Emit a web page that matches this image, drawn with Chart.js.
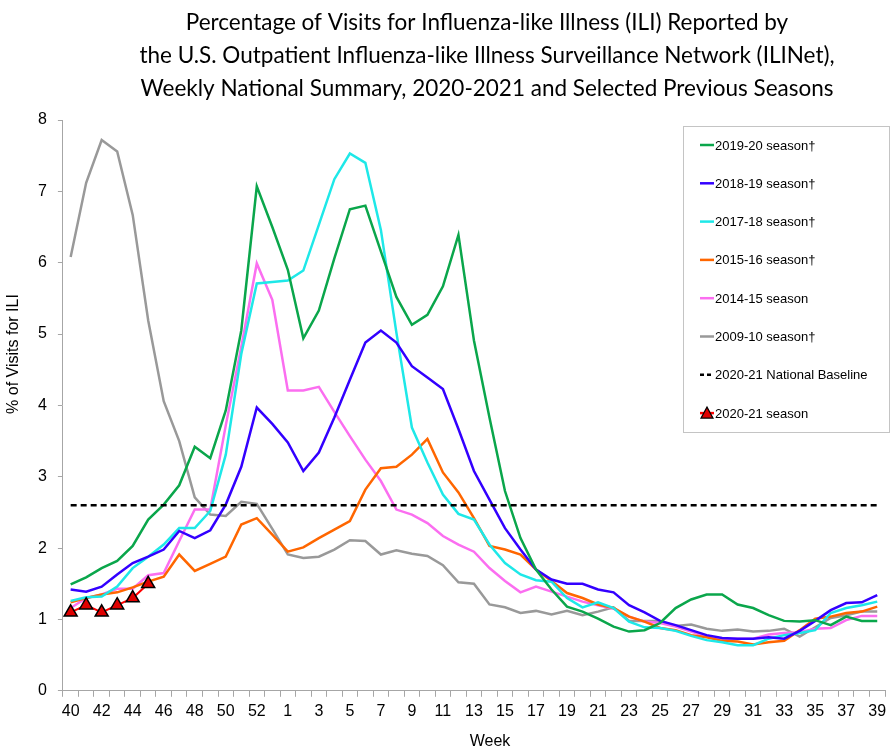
<!DOCTYPE html>
<html>
<head>
<meta charset="utf-8">
<script src="https://cdn.jsdelivr.net/npm/chart.js@4.4.1/dist/chart.umd.min.js"></script>
<style>
  html, body { margin: 0; padding: 0; background: #fff; }
  #wrap { width: 894px; height: 754px; }
</style>
</head>
<body>
<div id="wrap"><canvas id="ili" width="894" height="754"></canvas></div>
<script>
"use strict";

// week numbers along the x axis (2020-21 has a week 53)
const weeks = ["40","41","42","43","44","45","46","47","48","49","50","51","52","53",
  "1","2","3","4","5","6","7","8","9","10","11","12","13","14","15","16","17","18","19","20",
  "21","22","23","24","25","26","27","28","29","30","31","32","33","34","35","36","37","38","39"];

// % of visits for ILI
const season1920 = [1.49,1.59,1.72,1.82,2.03,2.40,2.61,2.88,3.42,3.26,
  3.93,5.05,7.07,6.50,5.90,4.94,5.33,6.06,6.75,6.80,
  6.16,5.52,5.13,5.27,5.67,6.39,4.91,3.83,2.80,2.14,
  1.70,1.42,1.18,1.11,1.01,0.90,0.83,0.85,0.95,1.16,
  1.28,1.35,1.35,1.21,1.16,1.06,0.98,0.97,0.99,0.92,
  1.04,0.98,0.98];
const season1819 = [1.42,1.39,1.46,1.63,1.79,1.88,1.98,2.24,2.14,2.25,
  2.61,3.14,3.97,3.74,3.48,3.08,3.34,3.83,4.36,4.88,
  5.05,4.88,4.55,4.39,4.23,3.67,3.08,2.68,2.28,1.98,
  1.70,1.56,1.50,1.50,1.42,1.38,1.20,1.10,0.98,0.92,
  0.85,0.78,0.74,0.73,0.73,0.75,0.73,0.84,0.98,1.13,
  1.23,1.24,1.34];
const season1718 = [1.26,1.31,1.32,1.46,1.72,1.88,2.05,2.28,2.28,2.52,
  3.31,4.72,5.71,5.73,5.75,5.89,6.53,7.17,7.53,7.40,
  6.46,5.02,3.69,3.20,2.75,2.48,2.40,2.05,1.79,1.63,
  1.55,1.53,1.30,1.17,1.24,1.16,0.97,0.89,0.88,0.84,
  0.77,0.71,0.68,0.64,0.64,0.73,0.78,0.81,0.85,1.09,
  1.16,1.20,1.25];
const season1516 = [1.24,1.30,1.35,1.38,1.45,1.53,1.60,1.91,1.68,1.78,
  1.88,2.33,2.42,2.19,1.95,2.01,2.14,2.26,2.38,2.82,
  3.12,3.14,3.31,3.53,3.06,2.78,2.42,2.03,1.98,1.91,
  1.70,1.54,1.37,1.30,1.21,1.16,1.04,0.97,0.88,0.85,
  0.78,0.75,0.70,0.69,0.65,0.68,0.70,0.85,1.01,1.04,
  1.09,1.11,1.18];
const season1415 = [1.16,1.30,1.35,1.43,1.43,1.62,1.65,2.10,2.54,2.54,
  3.72,4.82,5.99,5.48,4.21,4.21,4.26,3.91,3.57,3.24,
  2.94,2.54,2.47,2.35,2.17,2.05,1.95,1.72,1.54,1.38,
  1.46,1.39,1.32,1.25,1.20,1.15,1.04,0.97,0.95,0.90,
  0.83,0.76,0.73,0.73,0.73,0.79,0.81,0.82,0.87,0.88,
  0.99,1.05,1.05];
const season0910 = [6.08,7.12,7.72,7.56,6.67,5.19,4.06,3.50,2.71,2.47,
  2.45,2.65,2.62,2.27,1.91,1.86,1.88,1.98,2.11,2.10,
  1.91,1.97,1.92,1.89,1.76,1.52,1.50,1.21,1.17,1.09,
  1.12,1.07,1.12,1.06,1.11,1.17,0.98,0.98,0.98,0.91,
  0.93,0.87,0.84,0.86,0.83,0.84,0.87,0.76,0.89,1.02,
  1.06,1.11,1.11];
const season2021 = [1.1,1.2,1.1,1.2,1.3,1.5];
const baseline = 2.6;

const titleLines = [
  "Percentage of Visits for Influenza-like Illness (ILI) Reported by",
  "the U.S. Outpatient Influenza-like Illness Surveillance Network (ILINet),",
  "Weekly National Summary, 2020-2021 and Selected Previous Seasons"
];

const FONT = "'Liberation Sans', Arial, sans-serif";

function seasonLine(label, data, color, order) {
  return {
    label: label,
    data: data,
    borderColor: color,
    backgroundColor: color,
    borderWidth: 2.5,
    pointRadius: 0,
    tension: 0,
    order: order
  };
}

/**
 * Ritar titel, axeltitlar och förklaringsrutan.
 */
const overlay = {
  id: "overlay",
  beforeDraw(chart) {
    const ctx = chart.ctx;
    ctx.save();
    ctx.fillStyle = "#fff";
    ctx.fillRect(0, 0, chart.width, chart.height);
    ctx.restore();
  },
  afterDraw(chart) {
    const ctx = chart.ctx;
    ctx.save();

    // title
    ctx.fillStyle = "#000";
    ctx.textAlign = "center";
    ctx.textBaseline = "middle";
    ctx.font = "22.5px Lato, 'Open Sans', sans-serif";
    titleLines.forEach((line, i) => ctx.fillText(line, 487, 23 + i * 33));

    // axis titles
    ctx.font = "16px " + FONT;
    ctx.fillText("Week", 490, 742);
    ctx.translate(14, 354);
    ctx.rotate(-Math.PI / 2);
    ctx.fillText("% of Visits for ILI", 0, 0);
    ctx.setTransform(1, 0, 0, 1, 0, 0);

    // legend box
    const box = { x: 683.5, y: 126.5, w: 206, h: 306 };
    ctx.fillStyle = "#fff";
    ctx.fillRect(box.x, box.y, box.w, box.h);
    ctx.strokeStyle = "#c4c4c4";
    ctx.lineWidth = 1;
    ctx.strokeRect(box.x, box.y, box.w, box.h);

    ctx.font = "13px " + FONT;
    ctx.textAlign = "left";
    chart.data.datasets.forEach((ds, i) => {
      const y = 145 + i * 38.3;
      ctx.strokeStyle = ds.borderColor;
      ctx.lineWidth = 2.5;
      ctx.setLineDash(ds.borderDash ? [4, 3] : []);
      ctx.beginPath();
      ctx.moveTo(700, y);
      ctx.lineTo(714, y);
      ctx.stroke();
      ctx.setLineDash([]);
      if (ds.pointStyle === "triangle") {
        ctx.fillStyle = ds.pointBackgroundColor;
        ctx.strokeStyle = ds.pointBorderColor;
        ctx.lineWidth = 1.2;
        ctx.beginPath();
        ctx.moveTo(707, y - 6);
        ctx.lineTo(713, y + 5);
        ctx.lineTo(701, y + 5);
        ctx.closePath();
        ctx.fill();
        ctx.stroke();
      }
      ctx.fillStyle = "#000";
      ctx.fillText(ds.label, 715, y + 1);
    });
    ctx.restore();
  }
};

const canvas = document.getElementById("ili");

new Chart(canvas, {
  type: "line",
  data: {
    labels: weeks,
    datasets: [
      seasonLine("2019-20 season†", season1920, "#0aa64b", 2),
      seasonLine("2018-19 season†", season1819, "#3300ff", 3),
      seasonLine("2017-18 season†", season1718, "#1ee8e8", 4),
      seasonLine("2015-16 season†", season1516, "#ff6600", 5),
      seasonLine("2014-15 season", season1415, "#fb6ef0", 6),
      seasonLine("2009-10 season†", season0910, "#999999", 7),
      {
        label: "2020-21 National Baseline",
        data: weeks.map(() => baseline),
        borderColor: "#000",
        borderWidth: 2.5,
        borderDash: [6, 4],
        pointRadius: 0,
        order: 1
      },
      {
        label: "2020-21 season",
        data: season2021,
        borderColor: "#ff0000",
        borderWidth: 2,
        pointStyle: "triangle",
        pointRadius: 7.5,
        pointBackgroundColor: "#e00000",
        pointBorderColor: "#000",
        pointBorderWidth: 1.5,
        tension: 0,
        order: 0
      }
    ]
  },
  options: {
    responsive: false,
    animation: false,
    devicePixelRatio: 1,
    layout: { padding: { top: 120, right: 4, bottom: 28, left: 27 } },
    plugins: {
      legend: { display: false },
      title: { display: false },
      tooltip: { enabled: false }
    },
    scales: {
      x: {
        offset: true,
        grid: { drawOnChartArea: false, drawTicks: true, tickLength: 6, offset: true, color: "#a6a6a6" },
        border: { display: true, color: "#a6a6a6" },
        ticks: {
          autoSkip: false,
          maxRotation: 0,
          padding: 5,
          color: "#000",
          font: { family: FONT, size: 16 },
          callback: (value, index) => index % 2 === 0 ? weeks[index] : ""
        }
      },
      y: {
        min: 0,
        max: 8,
        grid: { drawOnChartArea: false, drawTicks: true, tickLength: 5, color: "#a6a6a6" },
        border: { display: true, color: "#a6a6a6" },
        ticks: {
          stepSize: 1,
          padding: 11,
          color: "#000",
          font: { family: FONT, size: 16 }
        }
      }
    }
  },
  plugins: [overlay]
});
</script>
</body>
</html>
